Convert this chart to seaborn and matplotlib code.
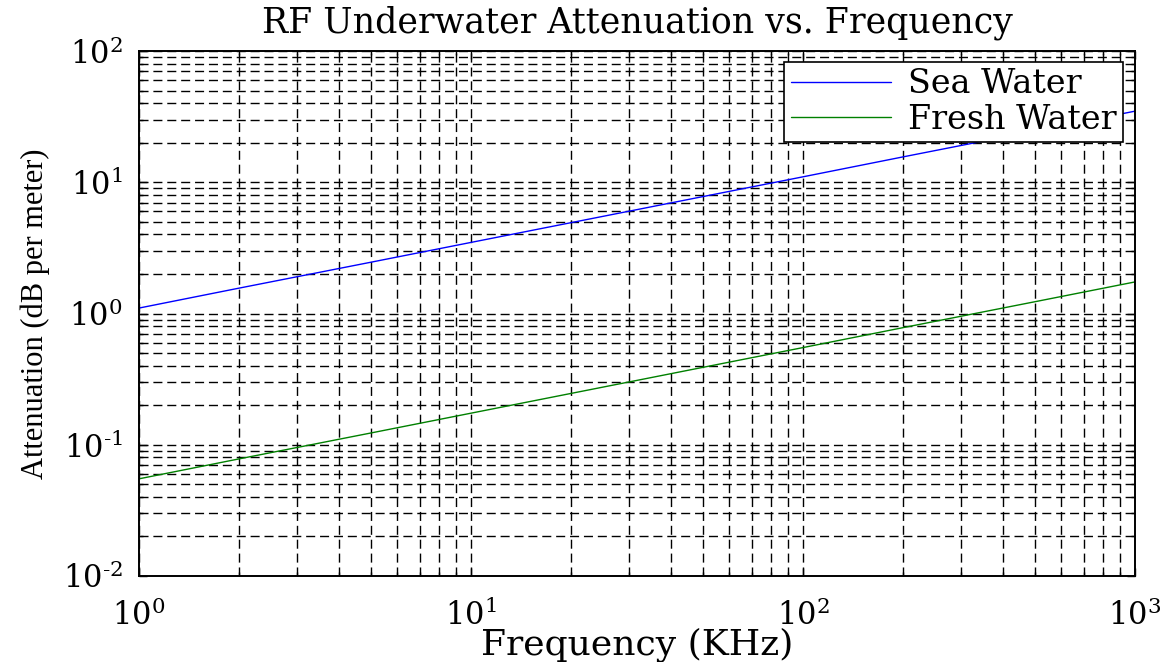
import numpy as np
import pandas as pd
import matplotlib
matplotlib.use("Agg")
import matplotlib.pyplot as plt
import seaborn as sns
from matplotlib.ticker import LogLocator, NullFormatter, FuncFormatter

# Data
freq_khz = [1, 2, 5, 10, 20, 50, 100, 200, 500, 1000]
sea_water = [1.1, 1.56, 2.46, 3.48, 4.92, 7.78, 11.0, 15.6, 24.6, 34.8]
fresh_water = [0.055, 0.078, 0.123, 0.174, 0.246, 0.389, 0.55, 0.78, 1.23, 1.74]
series_names = ["Sea Water", "Fresh Water"]
series_colors = ["#0000FF", "#008000"]

df = pd.concat([
    pd.DataFrame({"freq": freq_khz, "att": sea_water, "series": series_names[0]}),
    pd.DataFrame({"freq": freq_khz, "att": fresh_water, "series": series_names[1]}),
])

sns.set_style("white")
plt.rcParams["font.family"] = ["DejaVu Serif", "Liberation Serif"]
plt.rcParams["mathtext.fontset"] = "dejavuserif"
plt.rcParams["text.color"] = "black"
plt.rcParams["axes.labelcolor"] = "black"
plt.rcParams["xtick.color"] = "black"
plt.rcParams["ytick.color"] = "black"

fig = plt.figure(figsize=(11.64, 6.62), dpi=100)
ax = fig.add_axes([139/1164, 1 - 576/662, (1135-139)/1164, (576-51)/662])

sns.lineplot(data=df, x="freq", y="att", hue="series", palette=series_colors,
             hue_order=series_names, ax=ax, linewidth=1.0, legend=True)

ax.set_xscale("log")
ax.set_yscale("log")
ax.set_xlim(1, 1000)
ax.set_ylim(0.01, 100)

ax.xaxis.set_major_locator(LogLocator(base=10, numticks=10))
ax.yaxis.set_major_locator(LogLocator(base=10, numticks=10))
ax.xaxis.set_minor_locator(LogLocator(base=10, subs=np.arange(2, 10), numticks=20))
ax.yaxis.set_minor_locator(LogLocator(base=10, subs=np.arange(2, 10), numticks=20))
ax.xaxis.set_minor_formatter(NullFormatter())
ax.yaxis.set_minor_formatter(NullFormatter())


def fmt_func(v, p):
    e = int(round(np.log10(v)))
    s = str(abs(e))
    if e < 0:
        s = "\u2010" + s
    return r"$\mathregular{10^{%s}}$" % s


fmt = FuncFormatter(fmt_func)
ax.xaxis.set_major_formatter(fmt)
ax.yaxis.set_major_formatter(fmt)

grid_kw = dict(color="black", linewidth=1.0, linestyle=(0, (6.5, 3.5)))
ax.grid(True, which="major", **grid_kw)
ax.grid(True, which="minor", **grid_kw)

ax.tick_params(which="both", direction="in", top=True, right=True,
               bottom=True, left=True, colors="black", labelcolor="black",
               labelsize=22)
ax.tick_params(which="major", length=6, width=1)
ax.tick_params(which="minor", length=3, width=1)
ax.tick_params(axis="x", pad=17)
ax.tick_params(axis="y", pad=12)
for s in ax.spines.values():
    s.set_color("black")
    s.set_linewidth(1.4)

ax.set_title("RF Underwater Attenuation vs. Frequency", fontsize=25, pad=13,
             color="black")
ax.set_xlabel("Frequency (KHz)", fontsize=26, color="black")
ax.xaxis.set_label_coords(0.5, -0.098)
ax.xaxis.label.set_va("top")
ax.set_ylabel("Attenuation (dB per meter)", fontsize=22, color="black",
              family=["Liberation Serif", "DejaVu Serif"])
ax.yaxis.set_label_coords(-0.089, 0.5)

leg = ax.legend(loc="upper right", bbox_to_anchor=(0.988, 0.98), fontsize=24,
                frameon=True, fancybox=False, edgecolor="black", framealpha=1,
                handlelength=3.0, borderpad=0.2, labelspacing=0.1,
                handletextpad=0.5, borderaxespad=0)
leg.get_frame().set_linewidth(1.2)
for t in leg.get_texts():
    t.set_color("black")
leg.set_title(None)

fig.savefig("out.png", dpi=100)
